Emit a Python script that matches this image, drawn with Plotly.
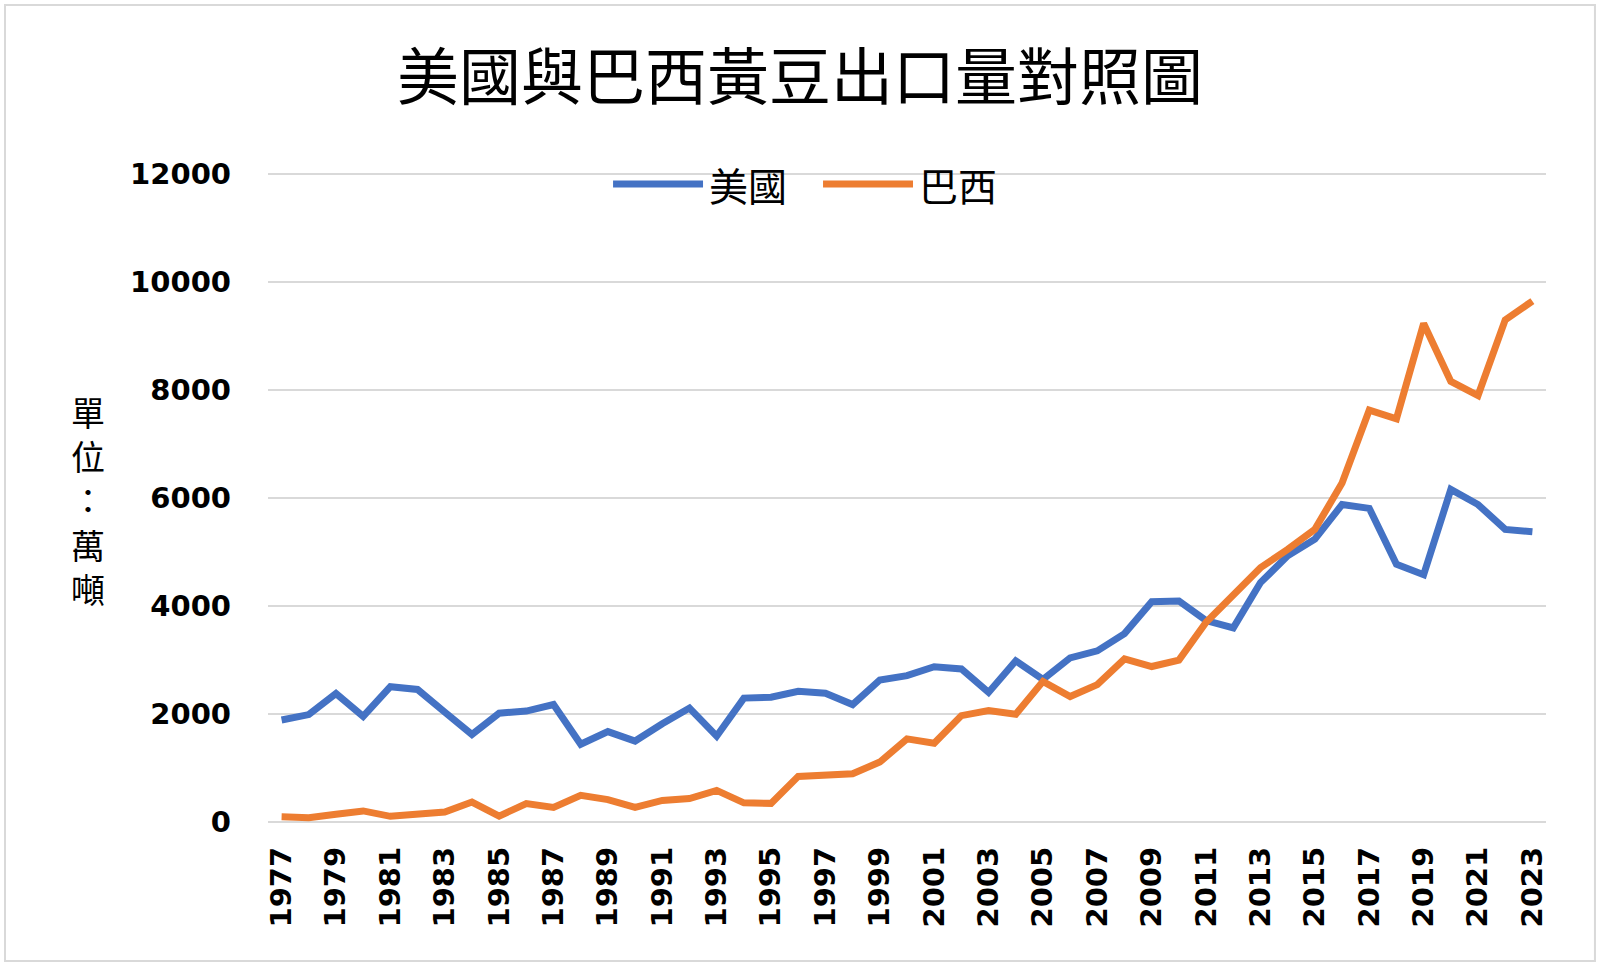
import plotly.graph_objects as go

years = list(range(1977, 2024))

# 美國 exports (萬噸)
usa = [1890, 1990, 2380, 1955, 2505, 2455, 2035, 1620, 2015, 2055,
       2175, 1440, 1675, 1500, 1820, 2110, 1590, 2295, 2310, 2420,
       2385, 2175, 2630, 2710, 2875, 2835, 2400, 2985, 2640, 3040,
       3170, 3490, 4080, 4095, 3730, 3595, 4435, 4930, 5240, 5880,
       5810, 4775, 4580, 6160, 5880, 5420, 5375]

# 巴西 exports (萬噸)
brazil = [95, 80, 145, 205, 105, 155, 185, 370, 110, 340,
          270, 495, 415, 270, 400, 435, 585, 355, 345, 845,
          865, 895, 1110, 1540, 1460, 1970, 2065, 1995, 2605, 2325,
          2545, 3020, 2880, 3000, 3700, 4220, 4710, 5050, 5420, 6280,
          7630, 7470, 9235, 8160, 7900, 9300, 9650]

yticks = [0, 2000, 4000, 6000, 8000, 10000, 12000]

blue = '#4472C4'
orange = '#ED7D31'
cjk = 'Noto Sans CJK TC'

fig = go.Figure()
fig.add_trace(go.Scatter(x=years, y=usa, name='美國', mode='lines',
                         line=dict(color=blue, width=7)))
fig.add_trace(go.Scatter(x=years, y=brazil, name='巴西', mode='lines',
                         line=dict(color=orange, width=7)))

fig.update_layout(
    width=1600, height=966,
    margin=dict(l=268, r=54, t=172, b=144),
    paper_bgcolor='white',
    plot_bgcolor='white',
    showlegend=False,
    title=dict(text='美國與巴西黃豆出口量對照圖', x=0.5, xref='container',
               xanchor='center', y=0.919, yref='container', yanchor='middle',
               font=dict(family=cjk, size=62, color='black')),
)

fig.update_xaxes(
    range=[1976.5, 2023.5],
    tickmode='array', tickvals=years[::2], ticktext=[str(y) for y in years[::2]],
    tickangle=-90, showgrid=False, zeroline=False, showline=False,
    ticks='', ticklabelstandoff=18,
    tickfont=dict(family='DejaVu Sans', size=29, color='black', weight='bold'),
)
fig.update_yaxes(
    range=[0, 12040], tickvals=yticks, ticktext=[str(v) for v in yticks],
    showgrid=True, gridcolor='#d9d9d9', gridwidth=2,
    zeroline=True, zerolinecolor='#d9d9d9', zerolinewidth=2,
    showline=False, ticks='', ticklabelstandoff=36,
    tickfont=dict(family='DejaVu Sans', size=29, color='black', weight='bold'),
)

# y-axis title, stacked vertically
fig.add_annotation(text='單<br>位<br>：<br>萬<br>噸', xref='paper', yref='paper',
                   x=-0.1408, y=0.4955, xanchor='center', yanchor='middle',
                   showarrow=False,
                   font=dict(family=cjk, size=34, color='black'))

# legend drawn by hand so the line samples are long like the original
legend_y = 0.9815
for x0, x1, tx, col, name in [(0.2700, 0.3404, 0.3435, blue, '美國'),
                              (0.4343, 0.5047, 0.5078, orange, '巴西')]:
    fig.add_shape(type='line', xref='paper', yref='paper',
                  x0=x0, x1=x1, y0=legend_y, y1=legend_y,
                  line=dict(color=col, width=7))
    fig.add_annotation(text=name, xref='paper', yref='paper', x=tx, y=legend_y,
                       xanchor='left', yanchor='middle', showarrow=False,
                       font=dict(family=cjk, size=39, color='black'))

# thin outer border of the chart
fig.add_shape(type='rect', xref='paper', yref='paper',
              x0=-0.2058, x1=1.0383, y0=-0.2138, y1=1.257,
              line=dict(color='#d9d9d9', width=2), layer='below')

fig.write_html('out.html', config={'displayModeBar': False},
               post_script="document.body.style.margin='0';")
